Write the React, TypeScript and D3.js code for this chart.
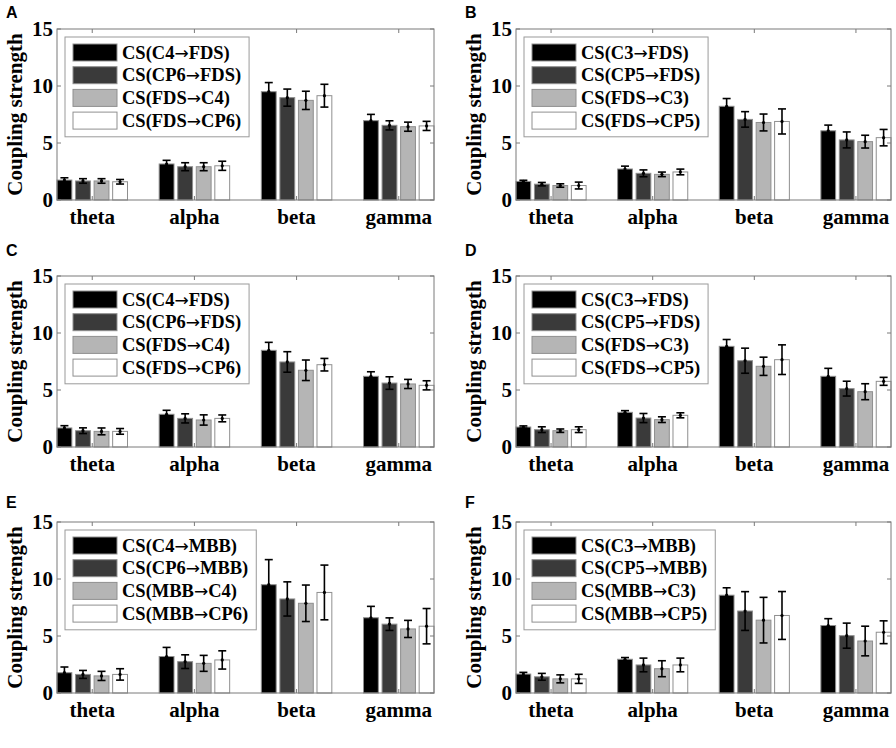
import React from "react";
import * as d3 from "d3";

const categories = ["theta", "alpha", "beta", "gamma"];
const yTicks = [0, 5, 10, 15];
const seriesFills = ["#000000", "#3a3a3a", "#b5b5b5", "#ffffff"];

const legendA = ["CS(C4→FDS)", "CS(CP6→FDS)", "CS(FDS→C4)", "CS(FDS→CP6)"];
const legendB = ["CS(C3→FDS)", "CS(CP5→FDS)", "CS(FDS→C3)", "CS(FDS→CP5)"];
const legendE = ["CS(C4→MBB)", "CS(CP6→MBB)", "CS(MBB→C4)", "CS(MBB→CP6)"];
const legendF = ["CS(C3→MBB)", "CS(CP5→MBB)", "CS(MBB→C3)", "CS(MBB→CP5)"];

// [series][category]
const meansA = [
  [1.75, 3.16, 9.5, 6.96],
  [1.67, 2.92, 8.98, 6.55],
  [1.67, 2.92, 8.74, 6.43],
  [1.6, 3.0, 9.15, 6.5],
];
const errA = [
  [0.2, 0.32, 0.8, 0.55],
  [0.2, 0.35, 0.75, 0.4],
  [0.2, 0.35, 0.8, 0.4],
  [0.2, 0.4, 1.0, 0.4],
];
const meansB = [
  [1.63, 2.72, 8.22, 6.07],
  [1.39, 2.34, 7.07, 5.27],
  [1.27, 2.25, 6.8, 5.12],
  [1.27, 2.46, 6.89, 5.47],
];
const errB = [
  [0.1, 0.25, 0.68, 0.5],
  [0.15, 0.3, 0.68, 0.7],
  [0.15, 0.2, 0.74, 0.56],
  [0.3, 0.25, 1.1, 0.72],
];
const meansC = [
  [1.67, 2.87, 8.48, 6.2],
  [1.43, 2.51, 7.46, 5.61],
  [1.37, 2.37, 6.73, 5.53],
  [1.37, 2.51, 7.22, 5.41],
];
const errC = [
  [0.2, 0.35, 0.7, 0.4],
  [0.25, 0.4, 0.9, 0.55],
  [0.3, 0.45, 0.9, 0.4],
  [0.25, 0.3, 0.55, 0.4],
];
const meansD = [
  [1.75, 3.04, 8.83, 6.2],
  [1.52, 2.54, 7.57, 5.12],
  [1.43, 2.4, 7.08, 4.85],
  [1.52, 2.78, 7.66, 5.76],
];
const errD = [
  [0.1, 0.15, 0.6, 0.7],
  [0.25, 0.4, 1.1, 0.65],
  [0.15, 0.25, 0.8, 0.7],
  [0.25, 0.22, 1.3, 0.35],
];
const meansE = [
  [1.78, 3.2, 9.5, 6.6],
  [1.63, 2.75, 8.25, 6.04],
  [1.5, 2.6, 7.87, 5.62],
  [1.63, 2.9, 8.82, 5.86],
];
const errE = [
  [0.5, 0.8, 2.2, 1.0],
  [0.35, 0.6, 1.5, 0.55],
  [0.4, 0.7, 1.6, 0.75],
  [0.5, 0.8, 2.4, 1.55],
];
const meansF = [
  [1.66, 2.96, 8.58, 5.92],
  [1.42, 2.46, 7.19, 5.03],
  [1.24, 2.13, 6.39, 4.56],
  [1.24, 2.46, 6.8, 5.33],
];
const errF = [
  [0.15, 0.15, 0.65, 0.6],
  [0.3, 0.6, 1.7, 1.1],
  [0.35, 0.7, 2.0, 1.3],
  [0.4, 0.6, 2.1, 1.0],
];

const SERIF = "'Liberation Serif', 'Times New Roman', 'DejaVu Serif', serif";
const SANS = "'Liberation Sans', Arial, 'DejaVu Sans', sans-serif";
const ARROWFONT = "'DejaVu Sans', sans-serif";
const LEG_FS = 18.5;
const ARROW_FS = 17;

function measure(text: string, font: string): number {
  if (typeof document === "undefined") return text.length * 9;
  const c = document.createElement("canvas");
  const ctx = c.getContext("2d");
  if (!ctx) return text.length * 9;
  ctx.font = font;
  return ctx.measureText(text).width;
}

function labelWidth(label: string): number {
  const parts = label.split("→");
  let w = 0;
  parts.forEach((p, i) => {
    w += measure(p, `bold ${LEG_FS}px ${SERIF}`);
    if (i < parts.length - 1) w += measure("→", `${ARROW_FS}px ${ARROWFONT}`);
  });
  return w;
}

type PanelProps = {
  letter: string;
  x0: number;
  x1: number;
  top: number;
  bottom: number;
  letterX: number;
  letterY: number;
  legend: string[];
  means: number[][];
  errs: number[][];
};

function Panel({ letter, x0, x1, top, bottom, letterX, letterY, legend, means, errs }: PanelProps) {
  const y = d3.scaleLinear().domain([0, 15]).range([bottom, top]);
  const xOuter = d3.scaleBand<string>().domain(categories).range([x0, x1]).paddingInner(0.31).paddingOuter(0);
  const xInner = d3
    .scaleBand<number>()
    .domain(d3.range(legend.length))
    .range([0, xOuter.bandwidth()])
    .paddingInner(0.2)
    .paddingOuter(0);
  const bw = xInner.bandwidth();

  const maxW = d3.max(legend, (t) => labelWidth(t)) || 110;
  const legX = x0 + 8;
  const legY = top + 8;
  const legW = 57 + maxW + 8;
  const rowH = 22.7;
  const legH = 7 + rowH * legend.length + 2;

  return (
    <g>
      <text x={letterX} y={letterY} fontFamily={SANS} fontWeight="bold" fontSize={16} fill="#000">
        {letter}
      </text>
      <rect x={x0} y={top} width={x1 - x0} height={bottom - top} fill="#fff" stroke="none" />
      {means.map((row, s) =>
        row.map((v, c) => {
          const bx = (xOuter(categories[c]) as number) + (xInner(s) as number);
          return (
            <rect
              key={`b${s}-${c}`}
              x={bx}
              y={y(v)}
              width={bw}
              height={y(0) - y(v)}
              fill={seriesFills[s]}
              stroke="#8f8f8f"
              strokeWidth={1}
            />
          );
        })
      )}
      {means.map((row, s) =>
        row.map((v, c) => {
          const cx = (xOuter(categories[c]) as number) + (xInner(s) as number) + bw / 2;
          const e = errs[s][c];
          const yt = y(v + e);
          const yb = y(v - e);
          return (
            <g key={`e${s}-${c}`} stroke="#000" strokeWidth={1.6}>
              <line x1={cx} x2={cx} y1={yt} y2={yb} />
              <line x1={cx - 4} x2={cx + 4} y1={yt} y2={yt} />
              <line x1={cx - 4} x2={cx + 4} y1={yb} y2={yb} />
              <circle cx={cx} cy={y(v)} r={1.6} fill="#000" stroke="none" />
            </g>
          );
        })
      )}
      <rect x={x0} y={top} width={x1 - x0} height={bottom - top} fill="none" stroke="#7a7a7a" strokeWidth={1} />
      {yTicks.map((t) => (
        <g key={`yt${t}`}>
          <line x1={x0} x2={x0 + 4} y1={y(t)} y2={y(t)} stroke="#7a7a7a" />
          <line x1={x1} x2={x1 - 4} y1={y(t)} y2={y(t)} stroke="#7a7a7a" />
          <text
            x={x0 - 4}
            y={y(t)}
            textAnchor="end"
            dominantBaseline="central"
            fontFamily={SERIF}
            fontWeight="bold"
            fontSize={21}
            fill="#000"
          >
            {t}
          </text>
        </g>
      ))}
      {categories.map((cat) => {
        const cx = (xOuter(cat) as number) + xOuter.bandwidth() / 2;
        return (
          <g key={`xt${cat}`}>
            <line x1={cx} x2={cx} y1={bottom} y2={bottom - 4} stroke="#7a7a7a" />
            <line x1={cx} x2={cx} y1={top} y2={top + 4} stroke="#7a7a7a" />
            <text
              x={cx}
              y={bottom + 24}
              textAnchor="middle"
              fontFamily={SERIF}
              fontWeight="bold"
              fontSize={21}
              fill="#000"
            >
              {cat}
            </text>
          </g>
        );
      })}
      <text
        transform={`translate(${x0 - 42},${(top + bottom) / 2}) rotate(-90)`}
        textAnchor="middle"
        dominantBaseline="central"
        fontFamily={SERIF}
        fontWeight="bold"
        fontSize={21}
        fill="#000"
      >
        Coupling strength
      </text>
      <rect x={legX} y={legY} width={legW} height={legH} fill="#fff" stroke="#9a9a9a" strokeWidth={1} />
      {legend.map((label, i) => {
        const cy = legY + 7 + rowH * i + 8.5;
        const parts = label.split("→");
        return (
          <g key={`lg${i}`}>
            <rect
              x={legX + 8}
              y={cy - 8.5}
              width={44}
              height={17}
              fill={seriesFills[i]}
              stroke="#8f8f8f"
              strokeWidth={1}
            />
            <text
              x={legX + 57}
              y={cy}
              dominantBaseline="central"
              fontFamily={SERIF}
              fontWeight="bold"
              fontSize={LEG_FS}
              fill="#000"
            >
              <tspan>{parts[0]}</tspan>
              <tspan fontFamily={ARROWFONT} fontWeight="normal" fontSize={ARROW_FS}>
                →
              </tspan>
              <tspan>{parts[1]}</tspan>
            </text>
          </g>
        );
      })}
    </g>
  );
}

export default function App() {
  const L = { x0: 57, x1: 434, letterX: 6 };
  const R = { x0: 516, x1: 891, letterX: 465 };
  const rows = [
    { top: 29, bottom: 200, letterY: 18 },
    { top: 276, bottom: 447, letterY: 256 },
    { top: 522, bottom: 693, letterY: 508 },
  ];
  return (
    <svg
      width={896}
      height={748}
      viewBox="0 0 896 748"
      style={{ position: "absolute", left: 0, top: 0, background: "#fff" }}
    >
      <rect x={0} y={0} width={896} height={748} fill="#fff" />
      <Panel letter="A" {...L} {...rows[0]} legend={legendA} means={meansA} errs={errA} />
      <Panel letter="B" {...R} {...rows[0]} legend={legendB} means={meansB} errs={errB} />
      <Panel letter="C" {...L} {...rows[1]} legend={legendA} means={meansC} errs={errC} />
      <Panel letter="D" {...R} {...rows[1]} legend={legendB} means={meansD} errs={errD} />
      <Panel letter="E" {...L} {...rows[2]} legend={legendE} means={meansE} errs={errE} />
      <Panel letter="F" {...R} {...rows[2]} legend={legendF} means={meansF} errs={errF} />
    </svg>
  );
}
